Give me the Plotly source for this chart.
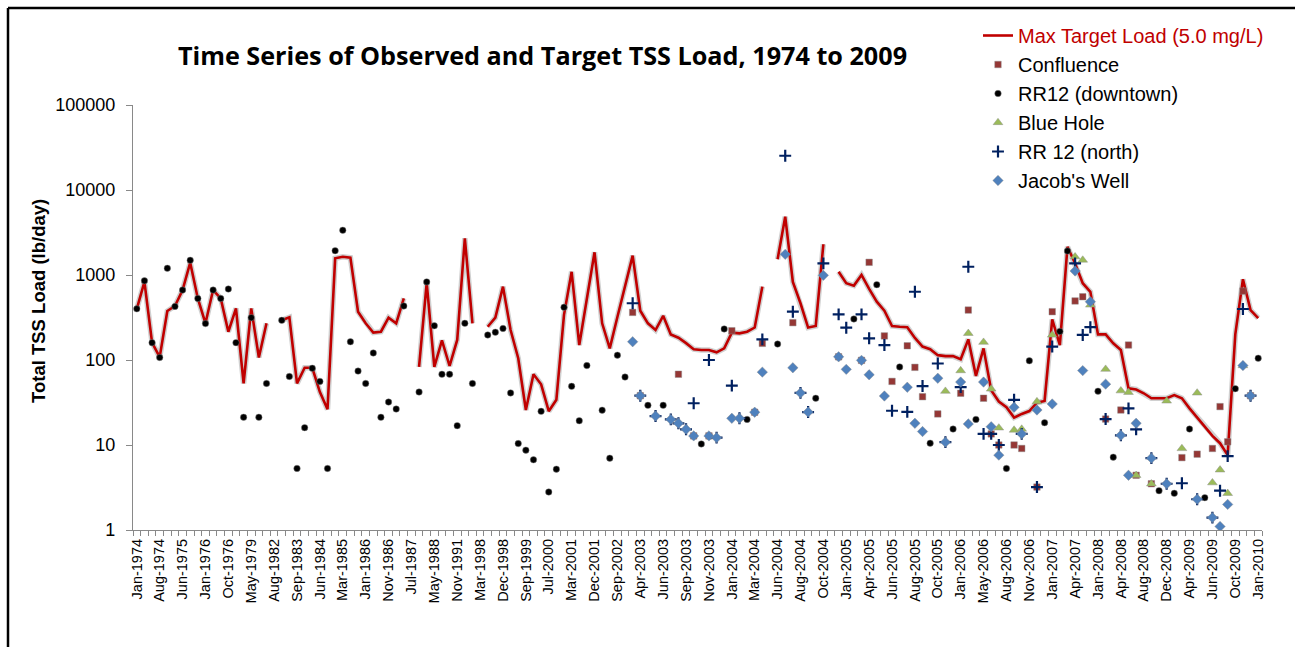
import plotly.graph_objects as go

N = None

# Category axis: one slot per sampling date, labelled every third slot
tick_labels = [
    "Jan-1974", "Aug-1974", "Jun-1975", "Jan-1976", "Oct-1976", "May-1979", "Aug-1982",
    "Sep-1983", "Jun-1984", "Mar-1985", "Jan-1986", "Nov-1986", "Jul-1987", "May-1988",
    "Nov-1991", "Mar-1998", "Dec-1998", "Sep-1999", "Jul-2000", "Mar-2001", "Dec-2001",
    "Sep-2002", "Apr-2003", "Jun-2003", "Sep-2003", "Nov-2003", "Jan-2004", "Mar-2004",
    "Jun-2004", "Aug-2004", "Oct-2004", "Jan-2005", "Apr-2005", "Jun-2005", "Aug-2005",
    "Oct-2005", "Jan-2006", "May-2006", "Aug-2006", "Nov-2006", "Jan-2007", "Apr-2007",
    "Jan-2008", "Apr-2008", "Aug-2008", "Dec-2008", "Apr-2009", "Jun-2009", "Oct-2009",
    "Jan-2010",
]
n_slots = 148
slots = list(range(n_slots))

# Max target load (lb/day) at 5.0 mg/L
max_target = [
    400, 830, 160, 108, 377, 432, 665, 1395, 530, 270,
    665, 530, 215, 405, 53, 405, 107, 270, N, 293,
    317, 53, 81, 81, 42, 26.3, 1570, 1640, 1600, 370,
    270, 210, 215, 315, 270, 532, N, 83, 810, 83,
    170, 85, 172, 2700, 270, N, 246, 315, 730, 225,
    105, 25.8, 68, 51.8, 25, 34, 340, 1090, 150, 525,
    1850, 270, 137, 320, 730, 1690, 380, 270, 225, 331,
    200, 183, 158, 134, 131, 131, 123, 137, 210, 206,
    215, 241, 730, N, 1530, 4850, 830, 465, 241, 251,
    2300, N, 1090, 800, 750, 1000, 685, 485, 380, 251,
    246, 243, 182, 144, 134, 114, 111, 111, 102, 175,
    65, 137, 44, 32.4, 27.8, 21, 23.2, 25.1, 31.5, 33,
    300, 150, 2150, 1370, 800, 635, 200, 200, 157, 131,
    46.5, 45, 40.6, 35.5, 35.5, 35.5, 38.7, 35.5, 27, 21.2,
    16.4, 12.8, 10.5, 7.6, 200, 890, 387, 310,
]

confluence = [N] * n_slots
rr12_downtown = [N] * n_slots
blue_hole = [N] * n_slots
rr12_north = [N] * n_slots
jacobs_well = [N] * n_slots

confluence_obs = {
    65: 363, 66: 38, 71: 68, 73: 12.8, 75: 12.8, 78: 221, 81: 24.3, 82: 157, 86: 275,
    92: 109, 95: 99, 96: 1410, 98: 192, 99: 56, 101: 147, 102: 82, 103: 37, 105: 23.2,
    108: 40.6, 109: 387, 111: 35.5, 112: 13.5, 113: 10, 115: 10, 116: 9.1, 118: 3.2,
    120: 370, 123: 495, 124: 555, 127: 20.2, 129: 25.8, 130: 150, 131: 4.4, 133: 3.5,
    137: 7.1, 139: 7.8, 141: 9.1, 142: 28.3, 143: 10.9, 145: 647, 146: 38,
}
rr12_downtown_obs = {
    0: 400, 1: 855, 2: 160, 3: 107, 4: 1200, 5: 427, 6: 665, 7: 1490, 8: 530, 9: 268,
    10: 665, 11: 530, 12: 684, 13: 160, 14: 21.2, 15: 315, 16: 21.2, 17: 53, 19: 293,
    20: 64, 21: 5.3, 22: 16, 23: 80, 24: 56, 25: 5.3, 26: 1930, 27: 3360, 28: 164,
    29: 74, 30: 53, 31: 121, 32: 21.2, 33: 32, 34: 26.5, 35: 432, 37: 42, 38: 830,
    39: 253, 40: 68, 41: 68, 42: 16.9, 43: 270, 44: 53, 46: 197, 47: 212, 48: 235,
    49: 41, 50: 10.4, 51: 8.7, 52: 6.7, 53: 24.9, 54: 2.8, 55: 5.2, 56: 417, 57: 49,
    58: 19.3, 59: 86, 61: 25.7, 62: 7.0, 63: 114, 64: 63, 67: 29.3, 69: 29.3, 74: 10.3,
    77: 232, 80: 20, 84: 154, 89: 35.5, 94: 304, 97: 770, 100: 83, 104: 10.5, 107: 15.4,
    110: 20, 114: 5.3, 117: 98, 119: 18.3, 121: 217, 122: 1915, 126: 43, 128: 7.2,
    134: 2.9, 136: 2.7, 138: 15.4, 140: 2.4, 144: 46, 147: 105,
}
blue_hole_obs = {
    106: 43, 108: 75, 109: 206, 111: 162, 112: 45.6, 113: 15.9, 115: 15, 116: 15.4,
    118: 32.4, 120: 197, 123: 1640, 124: 1500, 125: 444, 127: 78, 129: 43.5, 130: 41.7,
    131: 4.4, 133: 3.5, 135: 33, 137: 9.1, 139: 41, 141: 3.6, 142: 5.1, 143: 2.7, 145: 86,
}
rr12_north_obs = {
    65: 465, 66: 38, 68: 21.9, 70: 20, 71: 18, 72: 15.3, 73: 31, 75: 100, 76: 12.2,
    78: 50, 79: 20.6, 82: 175, 85: 25300, 86: 370, 87: 41, 88: 24.4, 90: 1370, 92: 344,
    93: 240, 95: 344, 96: 180, 98: 150, 99: 25.3, 101: 24.5, 102: 635, 103: 49.4, 105: 91,
    106: 10.8, 108: 48, 109: 1250, 111: 13.5, 112: 13.5, 113: 10, 115: 34, 116: 13.5,
    118: 3.2, 120: 144, 123: 1370, 124: 197, 125: 243, 127: 20.2, 129: 13, 130: 27,
    131: 15.3, 133: 7.0, 135: 3.5, 137: 3.55, 139: 2.3, 141: 1.4, 142: 2.9, 143: 7.4,
    145: 398, 146: 38,
}
jacobs_well_obs = {
    65: 164, 66: 38, 68: 21.9, 70: 20, 71: 18, 72: 15.3, 73: 12.8, 75: 12.8, 76: 12.2,
    78: 20.6, 79: 20.6, 81: 24.3, 82: 72, 85: 1750, 86: 81, 87: 41, 88: 24.4, 90: 990,
    92: 109, 93: 77.6, 95: 99, 96: 67, 98: 37.7, 101: 47.8, 102: 18, 103: 14.4, 105: 61,
    106: 10.8, 108: 55, 109: 17.7, 111: 55, 112: 16.4, 113: 7.6, 115: 27.8, 116: 13.5,
    118: 25.8, 120: 30.4, 123: 1115, 124: 75, 125: 485, 127: 52, 129: 13, 130: 4.4,
    131: 18, 133: 7.0, 135: 3.5, 139: 2.3, 141: 1.4, 142: 1.1, 143: 2.0, 145: 86, 146: 38,
}
for series, obs in [(confluence, confluence_obs), (rr12_downtown, rr12_downtown_obs),
                    (blue_hole, blue_hole_obs), (rr12_north, rr12_north_obs),
                    (jacobs_well, jacobs_well_obs)]:
    for k, v in obs.items():
        series[k] = v

AXIS_GREY = "#898989"
FONT = "Liberation Sans, Arial, sans-serif"

fig = go.Figure()

# soft shadow under the target line
fig.add_trace(go.Scatter(
    x=slots, y=max_target, mode="lines", connectgaps=False,
    line=dict(color="rgba(150,150,150,0.45)", width=5.5),
    showlegend=False, hoverinfo="skip",
))
fig.add_trace(go.Scatter(
    x=slots, y=max_target, mode="lines", connectgaps=False,
    name="<span style='color:#C00000'>Max Target Load (5.0 mg/L)</span>",
    line=dict(color="#C00000", width=2.6),
    legendgroup="a",
))

halo = dict(color="rgba(140,140,140,0.45)", width=1)
fig.add_trace(go.Scatter(
    x=slots, y=confluence, mode="markers", name="Confluence", legendgroup="b",
    marker=dict(symbol="square", size=6.5, color="#953735", line=halo),
))
fig.add_trace(go.Scatter(
    x=slots, y=rr12_downtown, mode="markers", name="RR12 (downtown)", legendgroup="c",
    marker=dict(symbol="circle", size=6.5, color="#000000", line=halo),
))
fig.add_trace(go.Scatter(
    x=slots, y=blue_hole, mode="markers", name="Blue Hole", legendgroup="d",
    marker=dict(symbol="triangle-up", size=8.5, color="#9BBB59", line=halo),
))
fig.add_trace(go.Scatter(
    x=slots, y=rr12_north, mode="markers", name="RR 12 (north)", legendgroup="e",
    marker=dict(symbol="cross-thin", size=8.5, color="#002060",
                line=dict(color="#002060", width=2.2)),
))
fig.add_trace(go.Scatter(
    x=slots, y=jacobs_well, mode="markers", name="Jacob's Well", legendgroup="f",
    marker=dict(symbol="diamond", size=8, color="#4F81BD", line=halo),
))

PLOT_L, PLOT_R, PLOT_T, PLOT_B = 133, 1262, 105, 530
W, H = 1295, 647
pw, ph = PLOT_R - PLOT_L, PLOT_B - PLOT_T


def px_x(px):
    return (px - PLOT_L) / pw


def px_y(py):
    return (PLOT_B - py) / ph


fig.update_layout(
    width=W, height=H,
    margin=dict(l=PLOT_L, r=W - PLOT_R, t=PLOT_T, b=H - PLOT_B),
    paper_bgcolor="white", plot_bgcolor="white",
    font=dict(family=FONT, color="#000000"),
    title=dict(
        text="<b>Time Series of Observed and Target TSS Load, 1974 to 2009</b>",
        font=dict(family="Open Sans, sans-serif", size=25.2, color="#000000"),
        x=542.5 / W, xanchor="center", y=1 - 56 / H, yanchor="middle",
    ),
    showlegend=True,
    legend=dict(
        x=px_x(978), y=px_y(16), xanchor="left", yanchor="top",
        font=dict(family=FONT, size=20, color="#000000"),
        bgcolor="rgba(0,0,0,0)", traceorder="grouped", tracegroupgap=0,
        itemwidth=30,
    ),
    xaxis=dict(
        range=[-0.5, n_slots - 0.5],
        tickmode="array",
        tickvals=list(range(0, n_slots, 3)),
        ticktext=tick_labels,
        tickangle=-90,
        tickfont=dict(family=FONT, size=14.5, color="#000000"),
        ticklabelstandoff=2,
        ticks="", showline=True, linecolor=AXIS_GREY, linewidth=1.3,
        showgrid=False, zeroline=False,
        minor=dict(tickmode="array", tickvals=[k - 0.5 for k in range(n_slots + 1)],
                   ticks="outside", ticklen=5, tickcolor=AXIS_GREY, tickwidth=1,
                   showgrid=False),
    ),
    yaxis=dict(
        type="log", range=[0, 5],
        tickmode="array",
        tickvals=[1, 10, 100, 1000, 10000, 100000],
        ticktext=["1", "10", "100", "1000", "10000", "100000"],
        tickfont=dict(family=FONT, size=18, color="#000000"),
        ticklabelstandoff=7,
        ticks="outside", ticklen=6, tickcolor=AXIS_GREY,
        showline=True, linecolor=AXIS_GREY, linewidth=1.3,
        showgrid=False, zeroline=False,
    ),
    annotations=[dict(
        text="<b>Total TSS Load (lb/day)</b>", textangle=-90,
        xref="paper", yref="paper", x=px_x(38), y=px_y(301),
        xanchor="center", yanchor="middle", showarrow=False,
        font=dict(family=FONT, size=18.5, color="#000000"),
    )],
    shapes=[
        dict(type="line", xref="paper", yref="paper",
             x0=px_x(8), x1=px_x(1300), y0=px_y(8), y1=px_y(8),
             line=dict(color="#000000", width=2.5)),
        dict(type="line", xref="paper", yref="paper",
             x0=px_x(8), x1=px_x(8), y0=px_y(8), y1=px_y(660),
             line=dict(color="#000000", width=2.5)),
    ],
)

fig.write_html("out.html")
